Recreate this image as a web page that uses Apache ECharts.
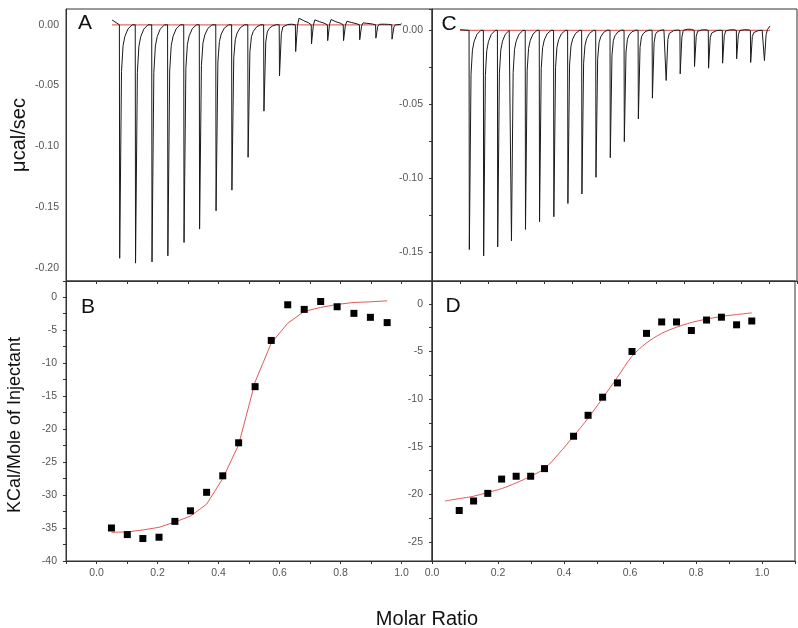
<!DOCTYPE html>
<html><head><meta charset="utf-8">
<script src="https://cdn.jsdelivr.net/npm/echarts@6/dist/echarts.min.js"></script>
<style>html,body{margin:0;padding:0;background:#fff}#c{width:798px;height:628px}</style>
</head><body><div id="c"></div>
<script>
// ---- Panel A raw thermogram (time in min, ucal/sec) ----
const injTimesA = [7.5, 12.7, 18.1, 23.3, 28.6, 33.7, 39.1, 44.3, 49.6, 54.8, 59.9, 65.2, 70.4, 75.7, 80.9, 86.2, 91.5, 96.8];
const peakDepthA = [-0.192, -0.196, -0.195, -0.190, -0.179, -0.168, -0.153, -0.136, -0.109, -0.071, -0.042, -0.022, -0.0156, -0.013, -0.013, -0.0123, -0.011, -0.0118];
const overshootA = [0, 0, 0, 0, 0, 0, 0, 0, 0, 0.0005, 0.002, 0.0074, 0.0055, 0.0055, 0.0041, 0.0027, 0.0014, 0.001];
const traceStartA = [5.1, 0.004];
const traceEndA = [100.0, 0.001];
// ---- Panel C raw thermogram ----
const injTimesC = [3.2, 8.3, 13.3, 18.2, 23.2, 28.2, 33.3, 38.3, 43.3, 48.3, 53.4, 58.4, 63.4, 68.4, 73.3, 78.3, 83.4, 88.4, 93.4, 98.4, 103.4, 108.3];
const peakDepthC = [-0.1484, -0.1527, -0.1466, -0.1425, -0.1348, -0.1296, -0.1262, -0.1172, -0.1108, -0.0995, -0.0862, -0.0753, -0.0599, -0.0459, -0.0339, -0.0294, -0.0244, -0.0256, -0.0222, -0.0192, -0.0217, -0.0204];
const overshootC = [0, 0, 0, 0, 0, 0, 0, 0, 0, 0.0008, 0.001, 0.0008, 0.001, 0.0016, 0.001, 0.0027, 0.0016, 0.0005, 0.0016, 0.0016, 0.0005, 0.0025];
const traceStartC = [0.0, 0.0005];
const traceEndC = [110.4, 0.003];
// injection peak shape
const shapeOffset = [0, 0.1, 0.7, 1.2, 1.8, 2.8, 4.2];
const shapeDepth = [0, 1, 0.2, 0.09, 0.05, 0.018, 0];
const shapeOver = [0, 0, 0.5, 1, 0.8, 0.5, 0.25];
// ---- Panel B isotherm ----
const molarB = [0.049, 0.101, 0.152, 0.205, 0.257, 0.308, 0.361, 0.414, 0.466, 0.520, 0.573, 0.627, 0.681, 0.735, 0.789, 0.844, 0.898, 0.953];
const heatB = [-35.0, -36.0, -36.6, -36.4, -34.0, -32.4, -29.6, -27.1, -22.1, -13.6, -6.6, -1.2, -1.9, -0.7, -1.5, -2.5, -3.1, -3.9];
const fitB = [-35.65, -35.6, -35.3, -34.9, -34.1, -33.2, -31.4, -27.5, -22.4, -12.9, -7.0, -4.0, -2.2, -1.6, -1.15, -0.85, -0.75, -0.6];
// ---- Panel D isotherm ----
const molarD = [0.0825, 0.126, 0.169, 0.211, 0.255, 0.299, 0.341, 0.429, 0.473, 0.517, 0.562, 0.606, 0.650, 0.696, 0.741, 0.786, 0.832, 0.877, 0.923, 0.969];
const heatD = [-21.7, -20.7, -19.9, -18.4, -18.1, -18.1, -17.3, -13.9, -11.7, -9.8, -8.3, -5.0, -3.1, -1.9, -1.9, -2.8, -1.7, -1.4, -2.2, -1.8];
const fitMolarD = [0.039, 0.0825, 0.126, 0.169, 0.211, 0.255, 0.299, 0.341, 0.385, 0.429, 0.473, 0.517, 0.562, 0.606, 0.650, 0.696, 0.741, 0.786, 0.832, 0.877, 0.923, 0.969];
const fitD = [-20.7, -20.45, -20.2, -19.8, -19.4, -18.8, -18.1, -17.3, -15.7, -13.9, -12.0, -9.9, -7.7, -5.5, -4.1, -3.1, -2.45, -1.96, -1.6, -1.33, -1.12, -0.95];

function buildTrace(start, end, times, depths, overs) {
  const pts = [start.slice()];
  times.forEach((t, i) => {
    shapeOffset.forEach((o, k) => {
      const tt = t + o;
      if (tt < end[0]) pts.push([tt, depths[i] * shapeDepth[k] + overs[i] * shapeOver[k]]);
    });
  });
  pts.push(end.slice());
  return pts;
}
const traceA = buildTrace(traceStartA, traceEndA, injTimesA, peakDepthA, overshootA);
const traceC = buildTrace(traceStartC, traceEndC, injTimesC, peakDepthC, overshootC);

const FONT = 'Liberation Sans, Arial, sans-serif';
const AX = '#333';
const LBL = {color: '#555', fontSize: 10.5, fontFamily: FONT};
const chart = echarts.init(document.getElementById('c'), null, {renderer: 'canvas'});
const gridBase = {show: true, borderColor: AX, borderWidth: 1, backgroundColor: 'transparent', containLabel: false};
const evenLabel = v => { const r = Math.round(v * 10); if (r % 2 !== 0) return ''; return (Math.abs(v) < 1e-9 ? 0 : v).toFixed(1); };
const axLine = {onZero: false, lineStyle: {color: AX}};
const tick = {show: true, length: 3, lineStyle: {color: AX}};

chart.setOption({
  animation: false,
  backgroundColor: '#fff',
  grid: [
    Object.assign({left: 66, top: 9, width: 366, height: 272}, gridBase),
    Object.assign({left: 432, top: 9, width: 365, height: 272}, gridBase),
    Object.assign({left: 66, top: 281, width: 366, height: 280}, gridBase),
    Object.assign({left: 432, top: 281, width: 365, height: 280}, gridBase)
  ],
  xAxis: [
    {gridIndex: 0, type: 'value', min: -10, max: 110, interval: 10, axisLine: axLine, axisTick: tick, axisLabel: {show: false}, splitLine: {show: false}},
    {gridIndex: 1, type: 'value', min: -10, max: 120, interval: 10, axisLine: axLine, axisTick: tick, axisLabel: {show: false}, splitLine: {show: false}},
    {gridIndex: 2, type: 'value', min: -0.1, max: 1.1, interval: 0.1, axisLine: axLine, axisTick: tick, axisLabel: Object.assign({margin: 7, formatter: evenLabel}, LBL), splitLine: {show: false}},
    {gridIndex: 3, type: 'value', min: 0, max: 1.1, interval: 0.1, axisLine: axLine, axisTick: tick, axisLabel: Object.assign({margin: 7, formatter: evenLabel}, LBL), splitLine: {show: false}}
  ],
  yAxis: [
    {gridIndex: 0, type: 'value', min: -0.2107, max: 0.013, splitNumber: 5, axisLine: axLine, axisTick: {show: false}, axisLabel: Object.assign({margin: 7, showMinLabel: false, showMaxLabel: false, formatter: v => v.toFixed(2)}, LBL), splitLine: {show: false}},
    {gridIndex: 1, type: 'value', min: -0.1697, max: 0.0145, splitNumber: 4, axisLine: axLine, axisTick: tick, minorTick: {show: true, splitNumber: 2, length: 3, lineStyle: {color: AX}}, axisLabel: Object.assign({margin: 9, showMinLabel: false, showMaxLabel: false, formatter: v => v.toFixed(2)}, LBL), splitLine: {show: false}},
    {gridIndex: 2, type: 'value', min: -40, max: 2.4, interval: 5, axisLine: axLine, axisTick: tick, minorTick: {show: true, splitNumber: 2, length: 3, lineStyle: {color: AX}}, axisLabel: Object.assign({margin: 9, showMaxLabel: false, formatter: v => String(Math.round(v))}, LBL), splitLine: {show: false}},
    {gridIndex: 3, type: 'value', min: -27, max: 2.4, splitNumber: 6, axisLine: axLine, axisTick: tick, minorTick: {show: true, splitNumber: 2, length: 3, lineStyle: {color: AX}}, axisLabel: Object.assign({margin: 9, showMinLabel: false, showMaxLabel: false, formatter: v => String(Math.round(v))}, LBL), splitLine: {show: false}}
  ],
  series: [
    {type: 'line', xAxisIndex: 0, yAxisIndex: 0, data: [[traceStartA[0], 0], [traceEndA[0], 0]], showSymbol: false, lineStyle: {color: '#e46a6a', width: 1.3}, z: 2},
    {type: 'line', xAxisIndex: 0, yAxisIndex: 0, data: traceA, showSymbol: false, lineStyle: {color: '#1a1a1a', width: 1}, z: 3},
    {type: 'line', xAxisIndex: 1, yAxisIndex: 1, data: [[traceStartC[0], 0], [traceEndC[0], 0]], showSymbol: false, lineStyle: {color: '#e46a6a', width: 1.3}, z: 2},
    {type: 'line', xAxisIndex: 1, yAxisIndex: 1, data: traceC, showSymbol: false, lineStyle: {color: '#1a1a1a', width: 1}, z: 3},
    {type: 'line', xAxisIndex: 2, yAxisIndex: 2, data: molarB.map((x, i) => [x, fitB[i]]), showSymbol: false, lineStyle: {color: '#e05a5a', width: 1}, z: 2},
    {type: 'scatter', xAxisIndex: 2, yAxisIndex: 2, data: molarB.map((x, i) => [x, heatB[i]]), symbol: 'rect', symbolSize: 7, itemStyle: {color: '#000', opacity: 1}, z: 3},
    {type: 'line', xAxisIndex: 3, yAxisIndex: 3, data: fitMolarD.map((x, i) => [x, fitD[i]]), smooth: 0.3, showSymbol: false, lineStyle: {color: '#e05a5a', width: 1}, z: 2},
    {type: 'scatter', xAxisIndex: 3, yAxisIndex: 3, data: molarD.map((x, i) => [x, heatD[i]]), symbol: 'rect', symbolSize: 7, itemStyle: {color: '#000', opacity: 1}, z: 3}
  ],
  graphic: [
    {type: 'text', x: 19, y: 135, rotation: Math.PI / 2, style: {text: 'μcal/sec', font: '20px ' + FONT, fill: '#111', textAlign: 'center', textVerticalAlign: 'middle'}},
    {type: 'text', x: 15, y: 425, rotation: Math.PI / 2, style: {text: 'KCal/Mole of Injectant', font: '18px ' + FONT, fill: '#111', textAlign: 'center', textVerticalAlign: 'middle'}},
    {type: 'text', x: 427, y: 619, style: {text: 'Molar Ratio', font: '20px ' + FONT, fill: '#111', textAlign: 'center', textVerticalAlign: 'middle'}},
    {type: 'text', x: 85, y: 23, style: {text: 'A', font: '21px ' + FONT, fill: '#111', textAlign: 'center', textVerticalAlign: 'middle'}},
    {type: 'text', x: 88, y: 307, style: {text: 'B', font: '21px ' + FONT, fill: '#111', textAlign: 'center', textVerticalAlign: 'middle'}},
    {type: 'text', x: 449, y: 24, style: {text: 'C', font: '21px ' + FONT, fill: '#111', textAlign: 'center', textVerticalAlign: 'middle'}},
    {type: 'text', x: 453, y: 306, style: {text: 'D', font: '21px ' + FONT, fill: '#111', textAlign: 'center', textVerticalAlign: 'middle'}}
  ]
});
</script></body></html>
